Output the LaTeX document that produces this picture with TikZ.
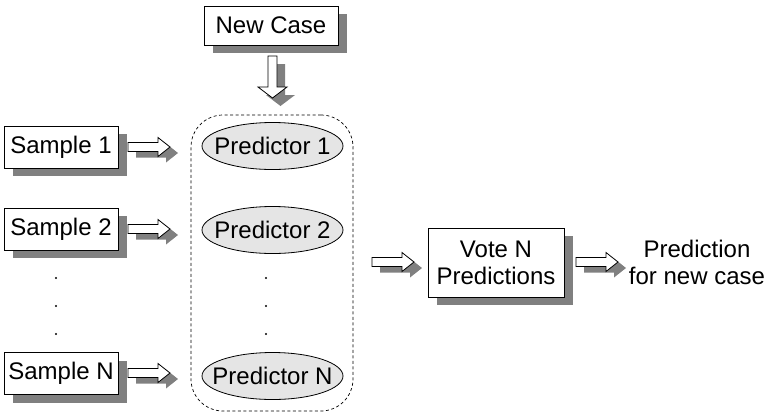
\documentclass[tikz,border=0pt]{standalone}
\usepackage{fontspec}
\setmainfont{Liberation Sans}
\usetikzlibrary{shadows,shapes.geometric}
\definecolor{shadowc}{gray}{0.5}
\definecolor{predfill}{gray}{0.9}
\tikzset{
  every node/.style={font=\fontsize{24}{27}\selectfont},
  boxstyle/.style={draw, fill=white, line width=0.8pt, inner sep=0pt,
    drop shadow={shadow xshift=9pt, shadow yshift=-8pt, fill=shadowc, opacity=1}},
  predstyle/.style={ellipse, draw, fill=predfill, line width=0.8pt, inner xsep=-12pt, inner ysep=0pt,
    minimum width=141pt, minimum height=47pt},
  groupstyle/.style={draw, dashed, dash pattern=on 3pt off 2.5pt, line width=0.7pt,
    rounded corners=32pt, minimum width=162pt, minimum height=296pt},
  dotstyle/.style={circle, fill=black, inner sep=0pt, minimum size=2.4pt},
  rarrow/.pic={
    \fill[shadowc] (8,-6) -- ++(0,4.5) -- ++(30,0) -- ++(0,5) -- ++(12,-9.5)
       -- ++(-12,-9.5) -- ++(0,5) -- ++(-30,0) -- cycle;
    \draw[fill=white, line width=0.8pt] (0,0) -- ++(0,4.5) -- ++(30,0) -- ++(0,5) -- ++(12,-9.5)
       -- ++(-12,-9.5) -- ++(0,5) -- ++(-30,0) -- cycle;
  },
  darrow/.pic={
    \fill[shadowc] (8,-8) -- ++(4.5,0) -- ++(0,-31) -- ++(10,0) -- ++(-14.5,-11)
       -- ++(-14.5,11) -- ++(10,0) -- ++(0,31) -- cycle;
    \draw[fill=white, line width=0.8pt] (0,0) -- ++(4.5,0) -- ++(0,-31) -- ++(10,0) -- ++(-14.5,-11)
       -- ++(-14.5,11) -- ++(10,0) -- ++(0,31) -- cycle;
  }
}
\begin{document}
\begin{tikzpicture}[x=1pt,y=1pt]
\useasboundingbox (0,0) rectangle (768,-413);
% group
\node[groupstyle] (group) at (272,-263) {};
% new case
\node[boxstyle, minimum width=134pt, minimum height=39pt] (newcase) at (271,-25.5) {New Case};
\pic at (272.5,-56) {darrow};
% samples
\node[boxstyle, minimum width=114pt, minimum height=42pt] (s1) at (61,-147) {Sample 1};
\node[boxstyle, minimum width=114pt, minimum height=42pt] (s2) at (61,-229) {Sample 2};
\node[boxstyle, minimum width=114pt, minimum height=42pt] (sn) at (61,-373.5) {Sample N};
\node[dotstyle] (sd1) at (56,-278) {};
\node[dotstyle] (sd2) at (56,-306) {};
\node[dotstyle] (sd3) at (56,-334) {};
\pic at (128,-147) {rarrow};
\pic at (128,-229) {rarrow};
\pic at (128,-373) {rarrow};
% predictors
\node[predstyle] (p1) at (272.5,-146) {Predictor 1};
\node[predstyle] (p2) at (272.5,-230) {Predictor 2};
\node[predstyle] (pn) at (272.5,-376) {Predictor N};
\node[dotstyle] (pd1) at (266,-278) {};
\node[dotstyle] (pd2) at (266,-306) {};
\node[dotstyle] (pd3) at (266,-334) {};
% vote
\pic at (372,-262) {rarrow};
\node[boxstyle, align=center, minimum width=136pt, minimum height=69pt] (vote) at (496,-262.5) {Vote N\\Predictions};
\pic at (576,-262) {rarrow};
\node[align=center, inner sep=0pt] (result) at (697,-262) {Prediction\\for new case};
\end{tikzpicture}
\end{document}
